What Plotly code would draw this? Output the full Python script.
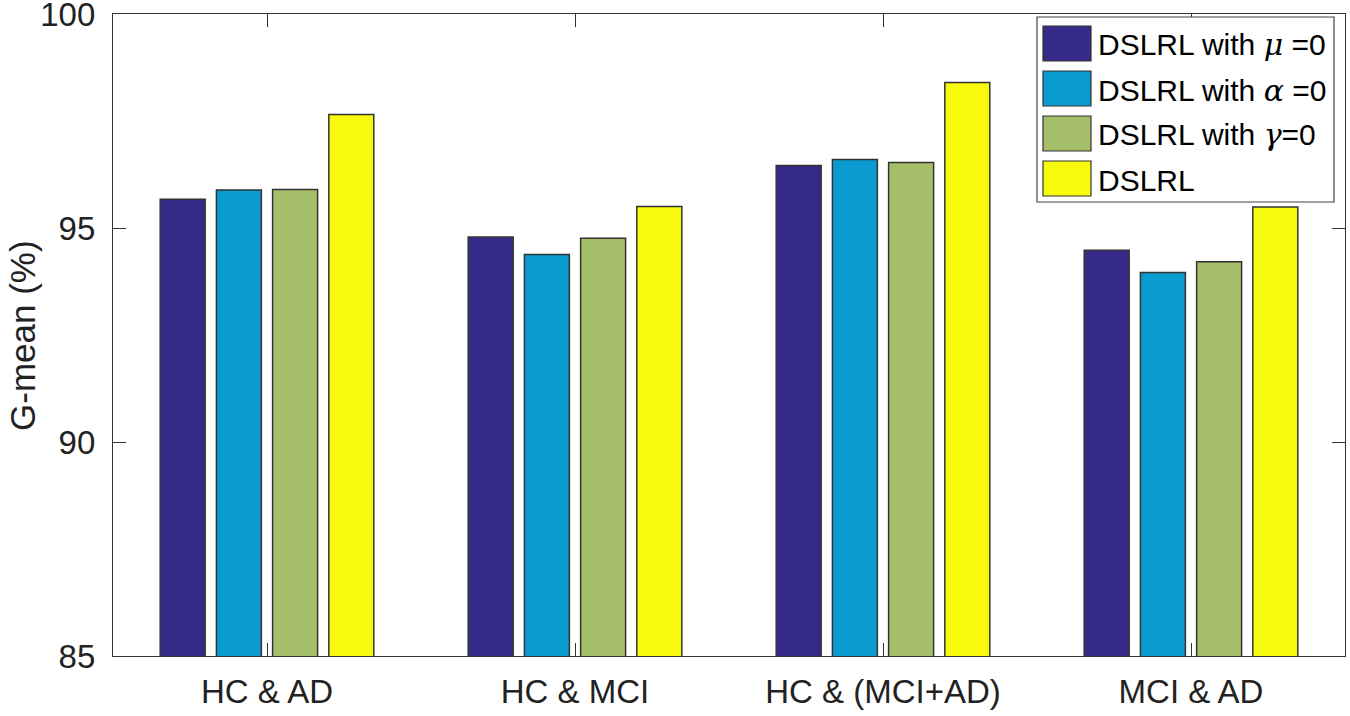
import plotly.graph_objects as go

# group labels and the four methods
categories = ["HC & AD", "HC & MCI", "HC & (MCI+AD)", "MCI & AD"]
series_names = [
    "DSLRL with <span style='font-family:DejaVu Serif'><i>μ</i></span> =0",
    "DSLRL with <span style='font-family:DejaVu Serif'><i>α</i></span> =0",
    "DSLRL with <span style='font-family:DejaVu Serif'><i>γ</i></span>=0",
    "DSLRL",
]
mu_zero = [95.67, 94.79, 96.46, 94.48]
alpha_zero = [95.89, 94.38, 96.60, 93.96]
gamma_zero = [95.90, 94.76, 96.53, 94.21]
dslrl = [97.65, 95.50, 98.40, 95.49]
colors = ["#352A87", "#0A9BD0", "#A5BE6A", "#F9FB0E"]

values = [mu_zero, alpha_zero, gamma_zero, dslrl]

W, H = 1350, 716
L, R, T, B = 113, 1345, 14, 656  # plot area in pixels


def px_x(p):
    return (p - L) / (R - L)


def px_y(p):
    return (B - p) / (B - T)


fig = go.Figure()
for name, vals, col in zip(series_names, values, colors):
    fig.add_trace(go.Bar(
        x=categories, y=vals, name=name, showlegend=False,
        marker=dict(color=col, line=dict(color="#333333", width=1.5)),
    ))

# legend drawn by hand to get the big MATLAB style swatches
shapes = [dict(type="rect", xref="paper", yref="paper",
               x0=px_x(1037), x1=px_x(1334), y0=px_y(202), y1=px_y(17),
               line=dict(color="#444444", width=1.2), fillcolor="white", layer="above")]
annotations = []
for i, (name, col) in enumerate(zip(series_names, colors)):
    top = 26 + 45 * i
    shapes.append(dict(type="rect", xref="paper", yref="paper",
                       x0=px_x(1043), x1=px_x(1091), y0=px_y(top + 35), y1=px_y(top),
                       line=dict(color="#333333", width=1.2), fillcolor=col, layer="above"))
    annotations.append(dict(xref="paper", yref="paper", x=px_x(1096), y=px_y(top + 19),
                            xanchor="left", yanchor="middle", showarrow=False,
                            text=name, font=dict(size=30, color="black")))

# y axis title
annotations.append(dict(xref="paper", yref="paper", x=px_x(23), y=px_y(336),
                        xanchor="center", yanchor="middle", showarrow=False,
                        textangle=-90, text="G-mean (%)",
                        font=dict(size=35, color="#222222")))

fig.update_layout(
    width=W, height=H,
    margin=dict(l=L, r=W - R, t=T, b=H - B, autoexpand=False),
    paper_bgcolor="white", plot_bgcolor="white",
    font=dict(family="Arial, Liberation Sans, sans-serif", color="#222222"),
    barmode="group", bargap=0.27, bargroupgap=0.2,
    shapes=shapes, annotations=annotations,
)
fig.update_xaxes(
    showline=True, linecolor="#333333", linewidth=1.2, mirror="ticks",
    ticks="inside", ticklen=13, tickcolor="#333333",
    tickfont=dict(size=33), range=[-0.5, 3.5], showgrid=False,
    ticklabelstandoff=6, automargin=False,
)
fig.update_yaxes(
    range=[85, 100], dtick=5, showline=True, linecolor="#333333", linewidth=1.2,
    mirror="ticks", ticks="inside", ticklen=13, tickcolor="#333333",
    tickfont=dict(size=33), showgrid=False, zeroline=False, ticklabelstandoff=10,
    ticklabeloverflow="allow", automargin=False,
)

# drop the default body margin so the figure fills the window exactly
fig.write_html("out.html", config={"displayModeBar": False},
               post_script="document.body.style.margin='0';")
